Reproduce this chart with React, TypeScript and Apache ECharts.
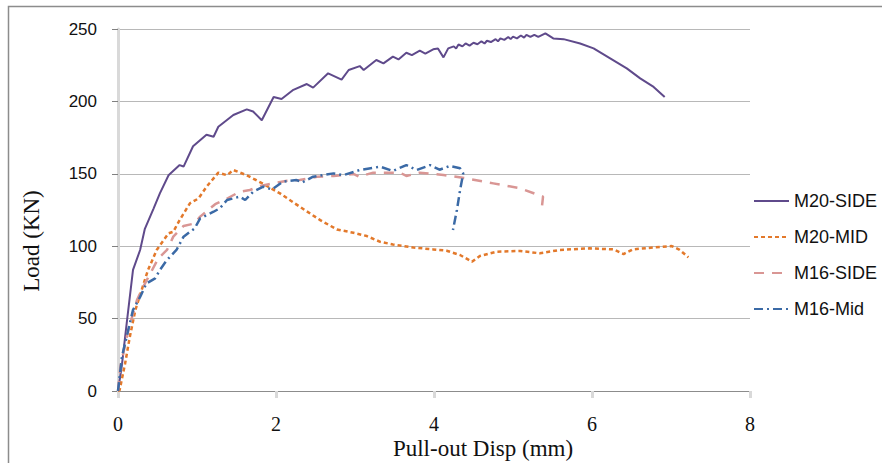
import React, { useEffect, useRef } from "react";
import * as echarts from "echarts";

const seriesNames = ["M20-SIDE", "M20-MID", "M16-SIDE", "M16-Mid"];
const seriesColors = ["#5f4a8b", "#e3792b", "#d99694", "#3b6aa6"];

const m20SideDisp = [0, 0.047, 0.11, 0.19, 0.28, 0.34, 0.45, 0.53, 0.64, 0.66, 0.78, 0.83, 0.95, 1.12, 1.21, 1.27, 1.46, 1.63, 1.71, 1.82, 1.97, 2.07, 2.22, 2.39, 2.47, 2.66, 2.83, 2.92, 3.06, 3.11, 3.27, 3.36, 3.48, 3.55, 3.65, 3.72, 3.82, 3.89, 3.99, 4.05, 4.12, 4.18, 4.25, 4.28, 4.31, 4.36, 4.4, 4.45, 4.5, 4.55, 4.6, 4.64, 4.67, 4.72, 4.78, 4.81, 4.84, 4.89, 4.94, 4.97, 5.0, 5.05, 5.1, 5.14, 5.17, 5.22, 5.27, 5.32, 5.41, 5.51, 5.64, 5.85, 6.02, 6.23, 6.44, 6.61, 6.78, 6.92];
const m20SideLoad = [0, 16.8, 46.7, 83.6, 97.4, 112, 126, 136.5, 149, 150, 156, 155, 169, 177, 175.6, 182.5, 190.6, 194.5, 193, 187, 203, 201.7, 208, 212, 209.5, 219.4, 215, 221.7, 224.4, 221.7, 228.6, 226.3, 230.9, 229, 233.6, 232, 235, 233, 236, 236.5, 230.4, 236.6, 238, 236.5, 239.3, 238, 240, 238.5, 240.5, 239.5, 241.5, 240, 241.9, 241, 243, 241.5, 243.5, 242.5, 244.5, 243, 244.7, 243.5, 245.5, 244, 245.9, 244.5, 246, 244.5, 247, 243.5, 243, 240, 236.6, 229.7, 222.8, 215.9, 210, 203];

const m20MidDisp = [0, 0.02, 0.09, 0.15, 0.22, 0.3, 0.38, 0.49, 0.64, 0.7, 0.78, 0.91, 1.02, 1.12, 1.27, 1.38, 1.46, 1.63, 1.84, 2.05, 2.3, 2.56, 2.77, 2.98, 3.15, 3.32, 3.48, 3.74, 3.99, 4.16, 4.33, 4.48, 4.58, 4.79, 5.09, 5.34, 5.59, 5.97, 6.27, 6.4, 6.52, 6.78, 7.01, 7.11, 7.22];
const m20MidLoad = [0, 0.5, 19, 37.5, 56, 69.8, 83.6, 97.4, 108.9, 110, 118, 129.6, 133, 141, 150.8, 149, 152.6, 149, 143, 136.5, 127.3, 118, 111.6, 109.3, 107, 103, 101.2, 99.1, 97.8, 96.9, 93.9, 89.3, 93.2, 96.2, 96.7, 95.1, 97.4, 98.5, 97.8, 94.6, 97.8, 99.1, 100.1, 97.4, 92.3];

const m16SideDisp = [0, 0.03, 0.13, 0.24, 0.32, 0.41, 0.51, 0.62, 0.7, 0.83, 0.97, 1.04, 1.23, 1.35, 1.54, 1.67, 1.8, 1.97, 2.14, 2.3, 2.52, 2.73, 2.98, 3.05, 3.23, 3.57, 3.65, 3.82, 4.12, 4.41, 4.75, 5.09, 5.38, 5.36];
const m16SideLoad = [0, 16.8, 42, 62.8, 72, 81.3, 91.6, 97.4, 106.6, 114, 115.7, 120.4, 129, 132, 137.6, 138.8, 141.6, 143.4, 145.2, 145.7, 148, 148.5, 149.9, 148, 150.8, 150.8, 148.5, 150.8, 149.2, 146.8, 143.4, 140, 134.2, 124];

const m16MidDisp = [0, 0.05, 0.11, 0.19, 0.28, 0.36, 0.47, 0.53, 0.62, 0.74, 0.83, 0.97, 1.04, 1.21, 1.29, 1.38, 1.54, 1.61, 1.71, 1.84, 1.95, 2.09, 2.26, 2.33, 2.47, 2.73, 2.85, 3.06, 3.32, 3.48, 3.65, 3.78, 3.95, 4.07, 4.2, 4.33, 4.37, 4.33, 4.29, 4.24];
const m16MidLoad = [0, 23.7, 37.5, 56, 65, 74.3, 77.8, 83.6, 90.5, 97.4, 106.6, 112.3, 119.2, 123.8, 126.2, 131.9, 134.2, 131.9, 137.6, 141.1, 139.2, 144.6, 145.7, 144, 148, 150.3, 149, 152.6, 154.9, 152, 156, 152.6, 156, 152.8, 155.4, 153.8, 150.3, 138.8, 125, 111.2];

const xTicks = [0, 2, 4, 6, 8];
const yTicks = [0, 50, 100, 150, 200, 250];

const pairs = (xs: number[], ys: number[]) => xs.map((x, i) => [x, ys[i]]);

export default function App() {
  const ref = useRef<HTMLDivElement>(null);
  useEffect(() => {
    if (!ref.current) return;
    const chart = echarts.init(ref.current, undefined, { renderer: "svg" });
    const dashes: any[] = ["solid", [4, 3], [10, 8], [9, 4, 2, 4]];
    const widths = [2, 2.5, 2.5, 2.5];
    const datas = [
      pairs(m20SideDisp, m20SideLoad),
      pairs(m20MidDisp, m20MidLoad),
      pairs(m16SideDisp, m16SideLoad),
      pairs(m16MidDisp, m16MidLoad),
    ];
    chart.setOption({
      animation: false,
      backgroundColor: "#ffffff",
      grid: { left: 118, right: 132, top: 29, bottom: 72 },
      xAxis: {
        type: "value",
        min: xTicks[0],
        max: xTicks[xTicks.length - 1],
        interval: 2,
        axisLine: { show: true, lineStyle: { color: "#8c8c8c", width: 1 } },
        axisTick: { show: true, length: 7, lineStyle: { color: "#d9d9d9", width: 3 } },
        axisLabel: { margin: 23, fontFamily: "Liberation Serif", fontSize: 20, color: "#111" },
        splitLine: { show: false },
      },
      yAxis: {
        type: "value",
        min: yTicks[0],
        max: yTicks[yTicks.length - 1],
        interval: 50,
        axisLine: { show: true, lineStyle: { color: "#d9d9d9", width: 3 } },
        axisTick: { show: true, length: 6, lineStyle: { color: "#808080", width: 1 } },
        axisLabel: { margin: 21, fontFamily: "Liberation Sans", fontSize: 17, color: "#111" },
        splitLine: { show: true, lineStyle: { color: "#b8b8b8", width: 1 } },
      },
      legend: {
        orient: "vertical",
        left: 748,
        top: 187,
        itemWidth: 35,
        itemHeight: 14,
        itemGap: 18,
        itemStyle: { opacity: 0 },
        textStyle: { fontFamily: "Liberation Sans", fontSize: 18, color: "#111", lineHeight: 18 },
        data: seriesNames,
      },
      graphic: [
        {
          type: "rect",
          shape: { x: 8.5, y: 6.5, width: 1000, height: 1000 },
          style: { fill: "none", stroke: "#8c8c8c", lineWidth: 1.5 },
          silent: true,
        },
        {
          type: "text",
          x: 483,
          y: 448,
          style: {
            text: "Pull-out Disp (mm)",
            fontFamily: "Liberation Serif",
            fontSize: 23,
            fill: "#111",
            align: "center",
            verticalAlign: "middle",
          },
        },
        {
          type: "text",
          x: 31,
          y: 241,
          rotation: Math.PI / 2,
          style: {
            text: "Load (KN)",
            fontFamily: "Liberation Serif",
            fontSize: 23,
            fill: "#111",
            align: "center",
            verticalAlign: "middle",
          },
        },
      ],
      series: seriesNames.map((name, i) => ({
        name,
        type: "line",
        data: datas[i],
        showSymbol: false,
        symbol: "none",
        smooth: false,
        color: seriesColors[i],
        lineStyle: { color: seriesColors[i], width: widths[i], type: dashes[i] },
      })),
    });
    return () => chart.dispose();
  }, []);
  return (
    <div
      ref={ref}
      style={{ position: "fixed", left: 0, top: 0, width: 882, height: 463, background: "#fff" }}
    />
  );
}
